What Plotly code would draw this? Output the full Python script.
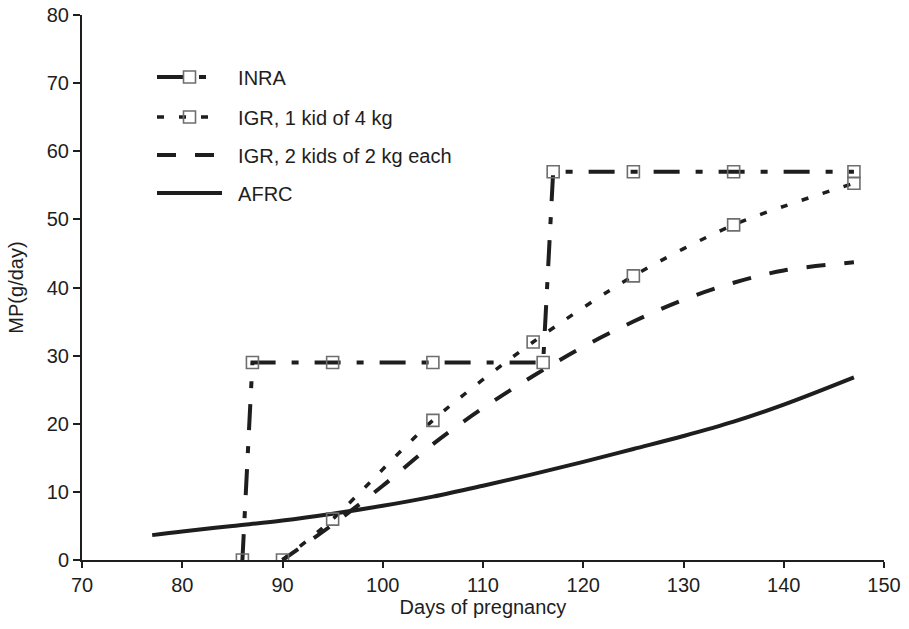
import plotly.graph_objects as go

# ---- data ----
inra_x = [86, 87, 95, 105, 116, 117, 125, 135, 147]
inra_y = [0, 29, 29, 29, 29, 57, 57, 57, 57]

igr1_x = [90, 95, 105, 115, 125, 135, 147]
igr1_y = [0, 6.0, 20.5, 32.0, 41.7, 49.2, 55.3]

igr2_x = [90, 95, 100, 105, 110, 115, 120, 125, 130, 135, 140, 147]
igr2_y = [0, 5.2, 10.9, 17.0, 22.3, 27.0, 31.3, 35.0, 38.2, 40.7, 42.5, 43.7]

afrc_x = [77, 80, 85, 90, 95, 100, 105, 110, 115, 120, 125, 130, 135, 140, 147]
afrc_y = [3.65, 4.2, 5.0, 5.8, 6.8, 7.95, 9.3, 10.9, 12.6, 14.4, 16.3, 18.2, 20.3, 22.8, 26.8]

names = ["INRA", "IGR, 1 kid of 4 kg", "IGR, 2 kids of 2 kg each", "AFRC"]

x_ticks = [70, 80, 90, 100, 110, 120, 130, 140, 150]
y_ticks = [0, 10, 20, 30, 40, 50, 60, 70, 80]

INK = "#1e1e1e"
MARK = "#6e6e6e"
FONT = "Liberation Sans, Arial, sans-serif"
FS = 20
PAD = "\u00a0\u00a0"  # small gap between legend symbol and its label

fig = go.Figure()

fig.add_trace(go.Scatter(
    x=afrc_x, y=afrc_y, name=PAD + names[3], mode="lines", legend="legend4",
    line=dict(color=INK, width=4, shape="spline", smoothing=1.0),
))
fig.add_trace(go.Scatter(
    x=igr2_x, y=igr2_y, name=PAD + names[2], mode="lines", legend="legend3",
    line=dict(color=INK, width=4, dash="19px,19px", shape="spline", smoothing=1.0),
))
fig.add_trace(go.Scatter(
    x=igr1_x, y=igr1_y, name=PAD + names[1], mode="lines+markers", legend="legend2",
    line=dict(color=INK, width=3.5, dash="7px,15px", shape="spline", smoothing=0.8),
    marker=dict(symbol="square-open", size=12, color=MARK, line=dict(width=1.6, color=MARK)),
))
fig.add_trace(go.Scatter(
    x=inra_x, y=inra_y, name=PAD + names[0], mode="lines+markers", legend="legend",
    line=dict(color=INK, width=4, dash="26px,16px,7px,16px"),
    marker=dict(symbol="square-open", size=12, color=MARK, line=dict(width=1.6, color=MARK)),
))

W, H = 909, 629
L, T, R, B = 82, 15, 25, 69
plot_h = H - T - B
plot_w = W - L - R


def py(p):
    return (H - B - p) / plot_h


def px(p):
    return (p - L) / plot_w


leg_common = dict(
    x=px(152), xanchor="left", yanchor="middle",
    font=dict(family=FONT, size=FS, color=INK),
    bgcolor="rgba(0,0,0,0)", borderwidth=0, itemwidth=65,
)

fig.update_layout(
    width=W, height=H,
    margin=dict(l=L, r=R, t=T, b=B, autoexpand=False),
    paper_bgcolor="white", plot_bgcolor="white",
    font=dict(family=FONT, size=FS, color=INK),
    showlegend=True,
    legend=dict(y=py(77), **leg_common),
    legend2=dict(y=py(117), **leg_common),
    legend3=dict(y=py(155), **leg_common),
    legend4=dict(y=py(193), **leg_common),
    xaxis=dict(
        range=[70, 150], tickvals=x_ticks, ticktext=[str(v) for v in x_ticks],
        showgrid=False, zeroline=False, showline=True, linecolor=INK, linewidth=2,
        ticks="outside", ticklen=6, tickwidth=1.5, tickcolor=INK, automargin=False,
        ticklabeloverflow="allow",
        tickfont=dict(family=FONT, size=FS, color=INK),
        title=dict(text="Days of pregnancy", font=dict(family=FONT, size=FS, color=INK), standoff=4),
    ),
    yaxis=dict(
        range=[0, 80], tickvals=y_ticks, ticktext=[str(v) for v in y_ticks],
        showgrid=False, zeroline=False, showline=True, linecolor=INK, linewidth=2,
        ticks="outside", ticklen=7, tickwidth=1.5, tickcolor=INK, automargin=False,
        ticklabeloverflow="allow",
        tickfont=dict(family=FONT, size=FS, color=INK),
        title=dict(text="MP(g/day)", font=dict(family=FONT, size=FS, color=INK), standoff=18),
    ),
)

fig.write_html(
    "out.html",
    config={"displayModeBar": False},
    post_script="document.body.style.margin='0';document.body.style.overflow='hidden';",
)
